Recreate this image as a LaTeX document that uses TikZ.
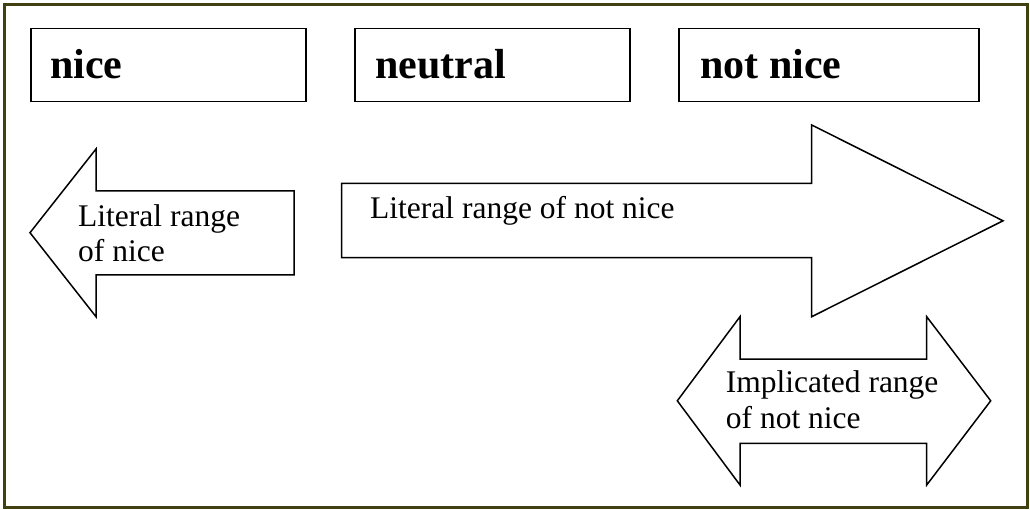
\documentclass[tikz,border=0pt]{standalone}
\usepackage{fontspec}
\setmainfont{Liberation Serif}
\definecolor{framecol}{RGB}{64,64,16}
\begin{document}
\begin{tikzpicture}[x=1pt,y=-1pt,
  labelbox/.style={draw=black,line width=1.5pt,fill=white,anchor=north west,minimum height=73pt,inner sep=0pt},
  boxtext/.style={anchor=base west,inner sep=0pt,font=\fontsize{42}{48}\selectfont\bfseries},
  arrowshape/.style={draw=black,line width=1.5pt,fill=white,line join=miter},
  arrowtext/.style={anchor=base west,inner sep=0pt,font=\fontsize{31.5}{35}\selectfont}]
\useasboundingbox (0,0) rectangle (1030,510);
\draw[draw=framecol,line width=3pt] (4.5,4.5) rectangle (1027,507.5);

% top boxes
\node[labelbox,minimum width=275pt] (nicebox) at (30,28) {};
\node[labelbox,minimum width=275pt] (neutralbox) at (354,28) {};
\node[labelbox,minimum width=300pt] (notnicebox) at (678,28) {};
\node[boxtext] (nicetext) at (50,79) {nice};
\node[boxtext] (neutraltext) at (375,79) {neutral};
\node[boxtext] (notnicetext) at (700,79) {not nice};

% left arrow
\draw[arrowshape] (30,232.7) -- (96,149) -- (96,191) -- (294,191) -- (294,275)
  -- (96,275) -- (96,316.7) -- cycle;
\node[arrowtext] (lit1) at (78,226.7) {Literal range};
\node[arrowtext] (lit2) at (78,261.7) {of nice};

% big right arrow
\draw[arrowshape] (341.7,183.3) -- (811.7,183.3) -- (811.7,125) -- (1003,220.8)
  -- (811.7,316.7) -- (811.7,257.7) -- (341.7,257.7) -- cycle;
\node[arrowtext] (litnot) at (370,219) {Literal range of not nice};

% double arrow
\draw[arrowshape] (677.3,400.8) -- (740,316.7) -- (740,359) -- (926.7,359)
  -- (926.7,316.7) -- (990.7,400.8) -- (926.7,485) -- (926.7,443.3)
  -- (740,443.3) -- (740,485) -- cycle;
\node[arrowtext] (imp1) at (725.7,392.7) {Implicated range};
\node[arrowtext] (imp2) at (725.7,428) {of not nice};
\end{tikzpicture}
\end{document}
